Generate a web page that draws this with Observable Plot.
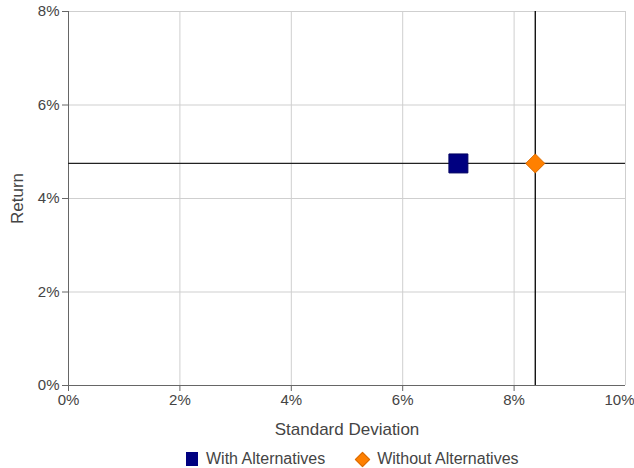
<!DOCTYPE html>
<html>
<head>
<meta charset="utf-8">
<script src="https://cdn.jsdelivr.net/npm/d3@7"></script>
<script src="https://cdn.jsdelivr.net/npm/@observablehq/plot@0.6"></script>
<style>
  html, body { margin: 0; padding: 0; background: #fff; }
  #chart { width: 634px; }
  #chart svg text { font-size: 15px; }
  #chart svg g[aria-label="x-axis label"] text,
  #chart svg g[aria-label="y-axis label"] text { font-size: 17px !important; }
  .legend { display: flex; justify-content: flex-start; align-items: center; gap: 30px; padding-left: 186px;
    font-family: "Liberation Sans", Arial, sans-serif; font-size: 16px; color: #444; margin-top: 8px; }
  .legend span { display: inline-flex; align-items: center; gap: 8px; }
  .sw { display: inline-block; width: 12px; height: 14px; }
  .dia { width: 9px; height: 9px; transform: rotate(45deg); margin: 0 1px 0 2px; border: 1px solid #d96a00; }
</style>
</head>
<body>
<div id="chart"></div>
<script>
const seriesNames = ["With Alternatives", "Without Alternatives"];
const stdDev = [7.0, 8.38];
const returns = [4.75, 4.75];
const symbols = ["square", "diamond2"];
const colors = ["#000080", "#ff8000"];
const strokes = ["#000060", "#d96a00"];
const radii = [10.7, 8.6];
const xTicks = [0, 2, 4, 6, 8, 10];
const yTicks = [0, 2, 4, 6, 8];

const data = seriesNames.map((name, i) => ({
  name, x: stdDev[i], y: returns[i], symbol: symbols[i], fill: colors[i], stroke: strokes[i], r: radii[i]
}));

const font = "'Liberation Sans', Arial, sans-serif";
const plot = Plot.plot({
  width: 634,
  height: 442,
  marginLeft: 68,
  marginRight: 9,
  marginTop: 11,
  marginBottom: 57,
  style: { fontFamily: font, fontSize: "15px", color: "#444", background: "#fff" },
  x: { domain: [0, 10] },
  y: { domain: [0, 8] },
  r: { type: "identity" },
  symbol: { type: "identity" },
  marks: [
    Plot.gridX(xTicks, { stroke: "#cfcfcf", strokeOpacity: 1 }),
    Plot.gridY(yTicks, { stroke: "#cfcfcf", strokeOpacity: 1 }),
    Plot.ruleX([0], { stroke: "#666" }),
    Plot.ruleY([0], { stroke: "#666" }),
    Plot.axisX({ ticks: xTicks.slice(0, -1), tickFormat: d => d + "%", tickSize: 6, stroke: "#666", label: "Standard Deviation", labelAnchor: "center", labelArrow: "none", labelOffset: 49 }),
    Plot.axisX({ ticks: xTicks.slice(-1), tickFormat: d => d + "%", tickSize: 6, stroke: "#666", label: null, textAnchor: "end", dx: 9 }),
    Plot.axisY({ ticks: yTicks, tickFormat: d => d + "%", tickSize: 6, stroke: "#666", label: "Return", labelAnchor: "center", labelArrow: "none", labelOffset: 58 }),
    Plot.ruleY(data.slice(1), { y: "y", stroke: "#222", strokeWidth: 1.3 }),
    Plot.ruleX(data.slice(1), { x: "x", stroke: "#000", strokeWidth: 1.3 }),
    Plot.dot(data, { x: "x", y: "y", symbol: "symbol", fill: "fill", stroke: "stroke", r: "r", strokeWidth: 1 })
  ]
});
document.getElementById("chart").appendChild(plot);

const legend = document.createElement("div");
legend.className = "legend";
data.forEach((d, i) => {
  const s = document.createElement("span");
  const sw = document.createElement("i");
  sw.className = "sw" + (i === 1 ? " dia" : "");
  sw.style.background = d.fill;
  s.appendChild(sw);
  s.appendChild(document.createTextNode(d.name));
  legend.appendChild(s);
});
document.getElementById("chart").appendChild(legend);
</script>
</body>
</html>
